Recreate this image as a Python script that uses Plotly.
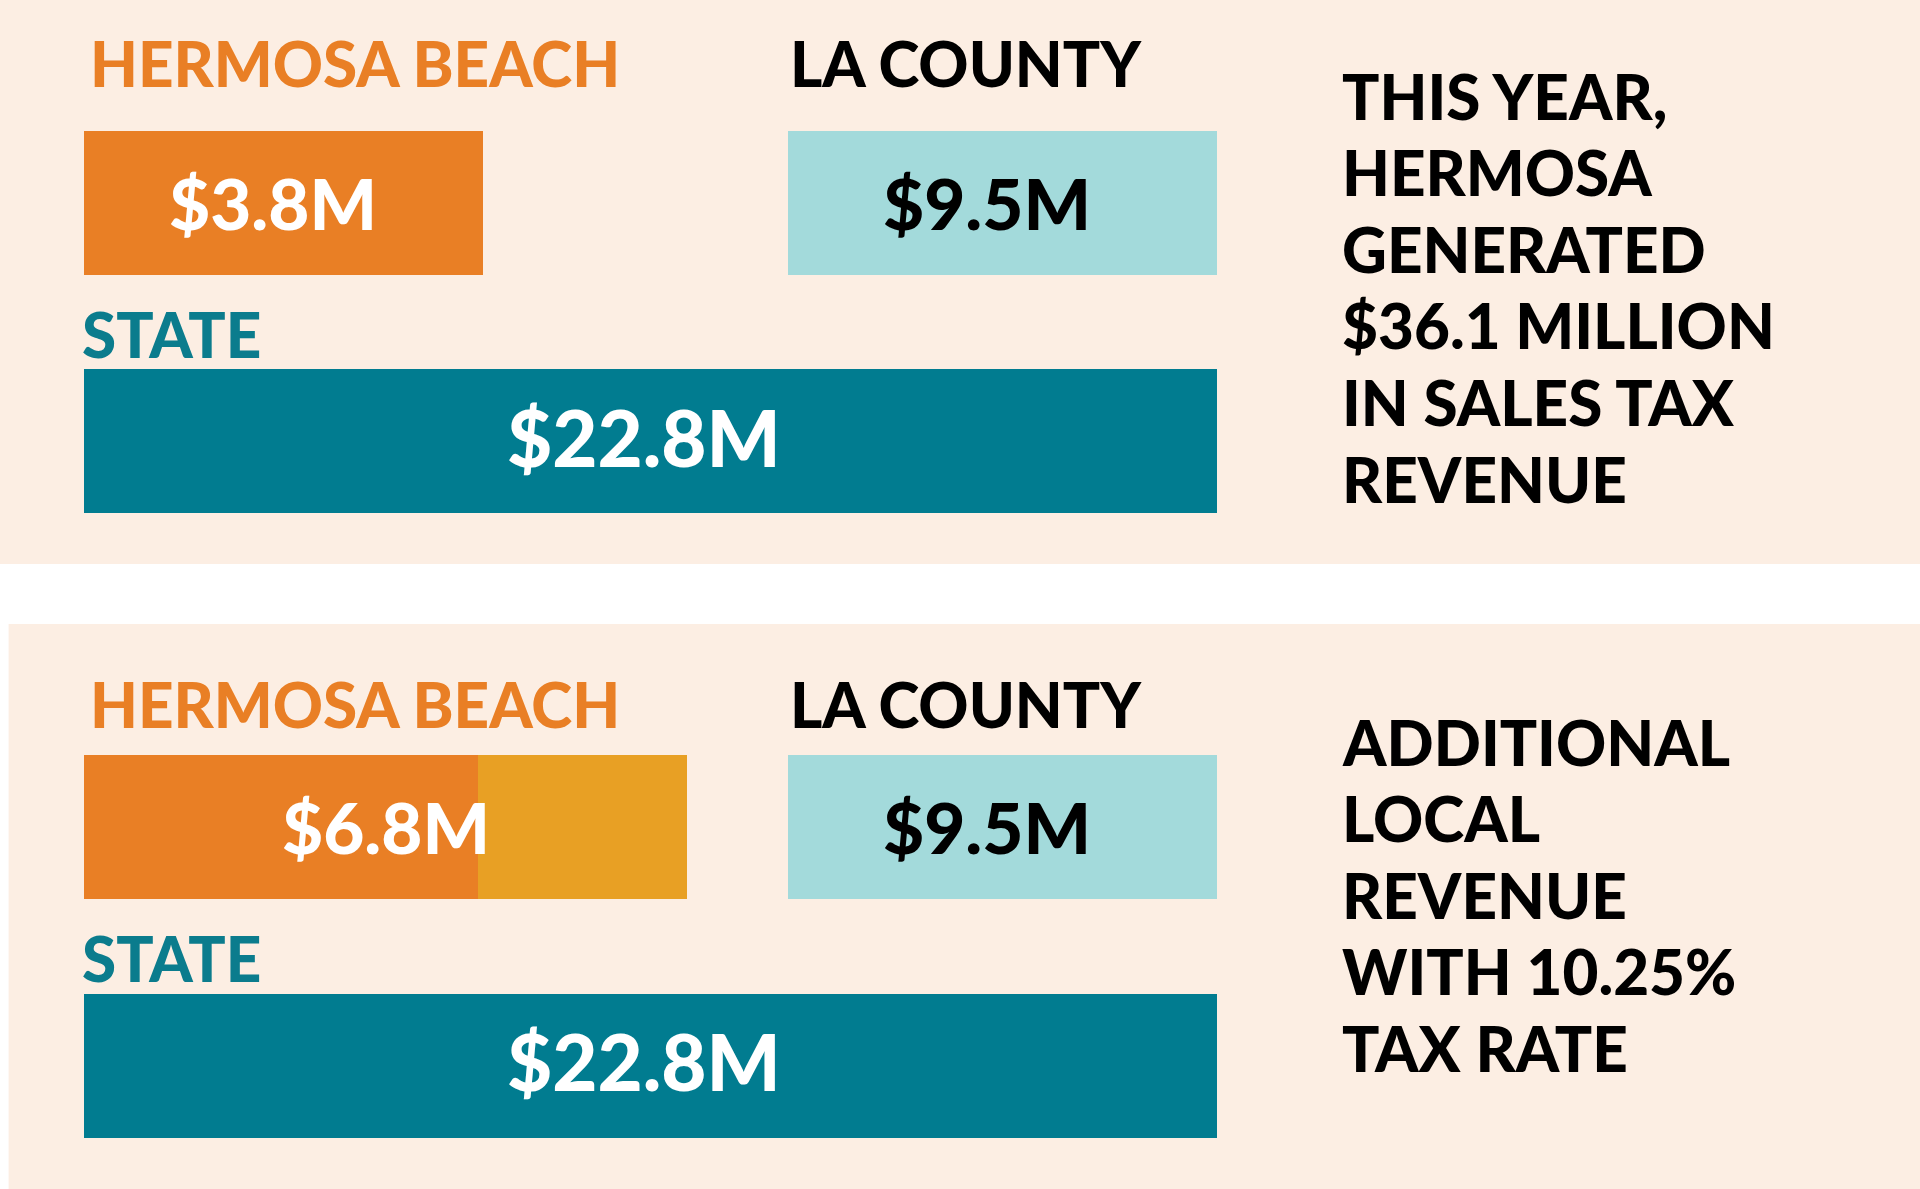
import plotly.graph_objects as go

# ---------------- data ----------------
regions = ["HERMOSA BEACH", "LA COUNTY", "STATE"]
revenue_now = [3.8, 9.5, 22.8]          # $M, current tax split
revenue_new = [6.8, 9.5, 22.8]          # $M, with 10.25% tax rate
hermosa_extra = 3.0                      # additional local revenue, $M
panel_notes = [
    ["THIS YEAR,", "HERMOSA", "GENERATED", "$36.1 MILLION", "IN SALES TAX", "REVENUE"],
    ["ADDITIONAL", "LOCAL", "REVENUE", "WITH 10.25%", "TAX RATE"],
]

# ---------------- style ----------------
W, H = 1920, 1189
PANEL = "#FCEEE3"
ORANGE = "#E97F25"
YELLOW = "#E8A024"
LIGHT = "#A3DADB"
TEAL = "#017C90"
TEAL_TXT = "#0B7C8D"
FONT = "Lato"

# layout grid (pixel units of the canvas)
X0, X_LA, X1, X_NOTE = 84, 788, 1217, 1344
BAR_H = 144
panels = [
    dict(y0=0, y1=564, x0=0, title_y=64, row1=203, state_y=334, row2=441,
         note_y=97, hb_end=483, extra_end=None),
    dict(y0=624, y1=1189, x0=8.6, title_y=705, row1=827, state_y=958, row2=1065.5,
         note_y=743, hb_end=478, extra_end=687),
]
NOTE_STEP = 76.6
# horizontal nudges of the value labels relative to their bar centre
LABEL_DX = {"hb": -11, "la": -16, "st": -7, "hb_ext": 0}

fig = go.Figure()
shapes, annotations = [], []

def ann(x, y, text, size, color, xanchor="left"):
    annotations.append(dict(
        x=x, y=y, xref="x", yref="y", text=text, showarrow=False,
        xanchor=xanchor, yanchor="middle",
        font=dict(family=FONT, size=size, color=color, weight=900),
    ))

def bar(start, end, yc, color):
    fig.add_trace(go.Bar(
        orientation="h", y=[yc], x=[end - start], base=[start], width=[BAR_H],
        marker=dict(color=color, line=dict(width=0)), hoverinfo="skip",
        showlegend=False,
    ))

def money(v):
    return f"${v:.1f}M"

for i, p in enumerate(panels):
    shapes.append(dict(type="rect", xref="x", yref="y", x0=p["x0"], x1=W,
                       y0=p["y0"], y1=p["y1"], fillcolor=PANEL,
                       line=dict(width=0), layer="below"))
    vals = revenue_now if i == 0 else revenue_new
    # titles
    ann(X0 + 4, p["title_y"] - 1, regions[0], 62, ORANGE)
    ann(X_LA, p["title_y"] - 1, regions[1], 62, "#000000")
    ann(X0 - 4, p["state_y"], regions[2], 62, TEAL_TXT)
    # Hermosa bar
    bar(X0, p["hb_end"], p["row1"], ORANGE)
    hb_right = p["hb_end"]
    dx = LABEL_DX["hb"]
    if p["extra_end"] is not None:
        bar(p["hb_end"], p["extra_end"], p["row1"], YELLOW)
        hb_right = p["extra_end"]
        dx = LABEL_DX["hb_ext"]
    ann((X0 + hb_right) / 2 + dx, p["row1"] - 1, money(vals[0]), 71, "#FFFFFF", "center")
    # LA county bar
    bar(X_LA, X1, p["row1"], LIGHT)
    ann((X_LA + X1) / 2 + LABEL_DX["la"], p["row1"] - 1, money(vals[1]), 71, "#000000", "center")
    # State bar
    bar(X0, X1, p["row2"], TEAL)
    ann((X0 + X1) / 2 + LABEL_DX["st"], p["row2"] - 4.5, money(vals[2]), 78, "#FFFFFF", "center")
    # notes
    for k, line in enumerate(panel_notes[i]):
        ann(X_NOTE - 4, p["note_y"] + k * NOTE_STEP - 1.5, line, 62, "#000000")

fig.update_layout(
    width=W, height=H, margin=dict(l=0, r=0, t=0, b=0, pad=0),
    paper_bgcolor="#FFFFFF", plot_bgcolor="rgba(0,0,0,0)",
    barmode="overlay", bargap=0,
    xaxis=dict(range=[0, W], visible=False, fixedrange=True),
    yaxis=dict(range=[H, 0], visible=False, fixedrange=True),
    shapes=shapes, annotations=annotations, showlegend=False,
)
fig.write_html(
    "out.html",
    config={"displayModeBar": False},
    post_script="document.body.style.margin='0px';document.body.style.overflow='hidden';",
)
